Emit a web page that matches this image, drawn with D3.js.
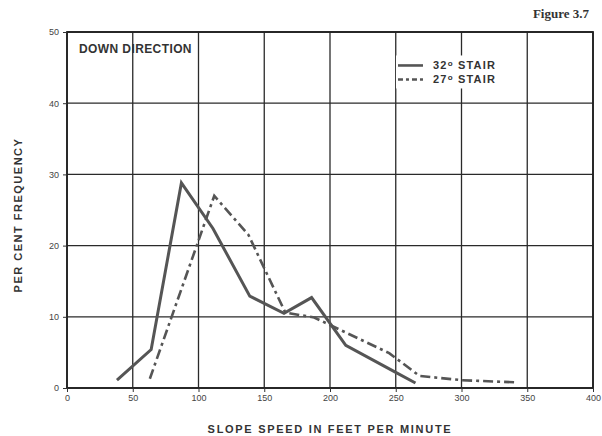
<!DOCTYPE html>
<html lang="en">
<head>
    <meta charset="UTF-8">
    <title>Figure 3.7</title>
    <script src="https://d3js.org/d3.v7.min.js"></script>
    <style>
        body { margin: 0; background: #fff; }
        .lbl { font-family: "Liberation Sans", Arial, sans-serif; font-weight: bold; fill: #333; }
        .tick text { font-family: "Liberation Sans", Arial, sans-serif; font-size: 9px; fill: #444; }
    </style>
</head>
<body>
    <svg width="602" height="436"></svg>

    <script>
        // slope speed (ft/min) and per cent frequency
        const speed32 = [38, 64, 87, 111, 139, 165, 186, 212, 250, 265];
        const freq32  = [1.1, 5.4, 28.8, 22.4, 12.9, 10.5, 12.7, 6.0, 2.2, 0.7];
        const speed27 = [63, 112, 138, 166, 188, 245, 268, 300, 340];
        const freq27  = [1.3, 27.0, 21.5, 10.6, 9.9, 4.9, 1.7, 1.1, 0.8];
        const xTicks = [0, 50, 100, 150, 200, 250, 300, 350, 400];
        const yTicks = [0, 10, 20, 30, 40, 50];

        const svg = d3.select("svg");
        const margin = {top: 32, right: 9, bottom: 48, left: 67};
        const width = +svg.attr("width") - margin.left - margin.right;
        const height = +svg.attr("height") - margin.top - margin.bottom;

        const x = d3.scaleLinear().domain([0, 400]).range([0, width]);
        const y = d3.scaleLinear().domain([0, 50]).range([height, 0]);

        const g = svg.append("g")
            .attr("transform", `translate(${margin.left},${margin.top})`);

        // grid
        g.append("g").selectAll("line.v").data(xTicks).enter().append("line")
            .attr("x1", d => x(d)).attr("x2", d => x(d))
            .attr("y1", 0).attr("y2", height)
            .attr("stroke", "#2a2a2a").attr("stroke-width", 1.3);
        g.append("g").selectAll("line.h").data(yTicks).enter().append("line")
            .attr("x1", 0).attr("x2", width)
            .attr("y1", d => y(d)).attr("y2", d => y(d))
            .attr("stroke", "#2a2a2a").attr("stroke-width", 1.3);
        g.append("rect")
            .attr("width", width).attr("height", height)
            .attr("fill", "none").attr("stroke", "#222").attr("stroke-width", 1.8);

        // axes
        g.append("g")
            .attr("transform", `translate(0,${height})`)
            .call(d3.axisBottom(x).tickValues(xTicks).tickSize(4).tickPadding(3))
            .call(a => a.select(".domain").remove())
            .call(a => a.selectAll("line").attr("stroke", "#333"));
        g.append("g")
            .call(d3.axisLeft(y).tickValues(yTicks).tickSize(4).tickPadding(4))
            .call(a => a.select(".domain").remove())
            .call(a => a.selectAll("line").attr("stroke", "#333"));

        // series
        const line = d3.line().x(d => x(d[0])).y(d => y(d[1]));
        g.append("path")
            .datum(d3.zip(speed27, freq27))
            .attr("d", line)
            .attr("fill", "none").attr("stroke", "#555").attr("stroke-width", 2.6)
            .attr("stroke-dasharray", "10,4,3,4");
        g.append("path")
            .datum(d3.zip(speed32, freq32))
            .attr("d", line)
            .attr("fill", "none").attr("stroke", "#555").attr("stroke-width", 3)
            .attr("stroke-linejoin", "miter");

        // legend
        const lg = g.append("g").attr("transform", `translate(${x(251.7)},${y(45.3)})`);
        lg.append("rect").attr("x", -2).attr("y", -10).attr("width", 106).attr("height", 33).attr("fill", "#fff");
        const legendItems = [["32", null], ["27", "5,3,3,3"]];
        legendItems.forEach((d, i) => {
            lg.append("line")
                .attr("x1", 0).attr("x2", 25).attr("y1", i * 14).attr("y2", i * 14)
                .attr("stroke", "#555").attr("stroke-width", 2.6)
                .attr("stroke-dasharray", d[1]);
            const t = lg.append("text").attr("class", "lbl")
                .attr("x", 35).attr("y", i * 14 + 4)
                .style("font-size", "11px").style("letter-spacing", "1.2px");
            t.append("tspan").text(d[0]);
            t.append("tspan").attr("dy", -3).style("font-size", "8px").text("o");
            t.append("tspan").attr("dy", 3).text(" STAIR");
        });

        // labels
        g.append("text").attr("class", "lbl")
            .attr("x", 12).attr("y", 20.5)
            .style("font-size", "12px").style("letter-spacing", "0.4px")
            .text("DOWN DIRECTION");

        svg.append("text")
            .attr("x", 589).attr("y", 18)
            .attr("text-anchor", "end")
            .style("font-family", "'Liberation Serif', 'DejaVu Serif', serif")
            .style("font-weight", "bold").style("font-size", "13px").attr("fill", "#333")
            .text("Figure 3.7");

        svg.append("text").attr("class", "lbl")
            .attr("x", margin.left + width / 2).attr("y", 433)
            .attr("text-anchor", "middle")
            .style("font-size", "11px").style("letter-spacing", "1.7px")
            .text("SLOPE SPEED IN FEET PER MINUTE");

        svg.append("text").attr("class", "lbl")
            .attr("transform", `translate(22,${margin.top + height / 2 + 5}) rotate(-90)`)
            .attr("text-anchor", "middle")
            .style("font-size", "11px").style("letter-spacing", "1.5px")
            .text("PER CENT FREQUENCY");
    </script>
</body>
</html>
